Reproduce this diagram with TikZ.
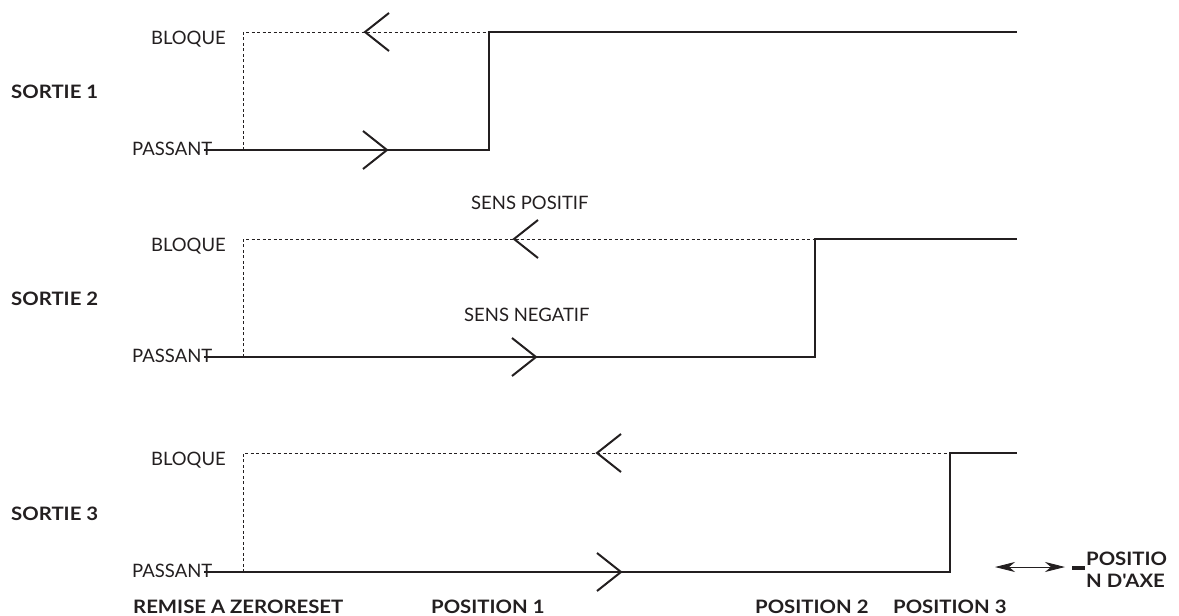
\documentclass[tikz,border=0pt]{standalone}
\usepackage{fontspec}
\newfontfamily\nfam{Lato}
\newfontfamily\bfam{Lato}[FakeStretch=1.1]
\usetikzlibrary{arrows.meta}
\definecolor{ink}{HTML}{231F20}
\tikzset{
  lbl/.style={font=\nfam\fontsize{18.5}{18.5}\selectfont, text=ink, inner sep=0pt},
  blbl/.style={font=\bfam\bfseries\fontsize{18.5}{18.5}\selectfont, text=ink, inner sep=0pt},
  sig/.style={draw=ink, line width=2.4pt, line join=miter},
  dsh/.style={draw=ink, line width=0.9pt, dash pattern=on 3pt off 2.5pt},
  chev/.style={draw=ink, line width=2pt},
  headtip/.tip={Stealth[length=20pt,width=10pt,inset=6pt]},
  axisarrow/.style={draw=ink, line width=0.9pt, headtip-headtip},
}
\begin{document}
\begin{tikzpicture}[x=1pt,y=-1pt]
\useasboundingbox (0,0) rectangle (1179,616);
% ---------- row labels
\node[blbl, anchor=west] (s1) at (11,92) {SORTIE 1};
\node[blbl, anchor=west] (s2) at (11,299) {SORTIE 2};
\node[blbl, anchor=west] (s3) at (11,514) {SORTIE 3};
% ---------- row 1
\node[lbl, anchor=east] (b1) at (226,39) {BLOQUE};
\node[lbl, anchor=west] (p1) at (132,149) {PASSANT};
\coordinate (a1) at (204,150);
\coordinate (d1) at (243,150);
\coordinate (e1) at (243,32);
\coordinate (v1) at (489,150);
\coordinate (w1) at (489,32);
\coordinate (r1) at (1017,32);
\draw[dsh] (d1) -- (e1) -- (w1);
\draw[sig] (a1) -- (v1) -- (w1) -- (r1);
\coordinate (cl1) at (387,150);
\coordinate (cu1) at (365,32);
\draw[chev] ([shift={(-24,-19)}]cl1) -- (cl1) -- ([shift={(-24,19)}]cl1);
\draw[chev] ([shift={(24,-19)}]cu1) -- (cu1) -- ([shift={(24,19)}]cu1);
% ---------- row 2
\node[lbl, anchor=east] (b2) at (226,246) {BLOQUE};
\node[lbl, anchor=west] (p2) at (132,356) {PASSANT};
\node[lbl, anchor=west] (sp) at (471,203) {SENS POSITIF};
\node[lbl, anchor=west] (sn) at (464,315) {SENS NEGATIF};
\coordinate (a2) at (204,357);
\coordinate (d2) at (243,357);
\coordinate (e2) at (243,239);
\coordinate (v2) at (815,357);
\coordinate (w2) at (815,239);
\coordinate (r2) at (1017,239);
\draw[dsh] (d2) -- (e2) -- (w2);
\draw[sig] (a2) -- (v2) -- (w2) -- (r2);
\coordinate (cl2) at (536,357);
\coordinate (cu2) at (514,239);
\draw[chev] ([shift={(-24,-19)}]cl2) -- (cl2) -- ([shift={(-24,19)}]cl2);
\draw[chev] ([shift={(24,-19)}]cu2) -- (cu2) -- ([shift={(24,19)}]cu2);
% ---------- row 3
\node[lbl, anchor=east] (b3) at (226,460) {BLOQUE};
\node[lbl, anchor=west] (p3) at (132,571) {PASSANT};
\coordinate (a3) at (204,572);
\coordinate (d3) at (243,572);
\coordinate (e3) at (243,453);
\coordinate (v3) at (950,572);
\coordinate (w3) at (950,453);
\coordinate (r3) at (1017,453);
\draw[dsh] (d3) -- (e3) -- (w3);
\draw[sig] (a3) -- (v3) -- (w3) -- (r3);
\coordinate (cl3) at (621,572);
\coordinate (cu3) at (597,453);
\draw[chev] ([shift={(-24,-19)}]cl3) -- (cl3) -- ([shift={(-24,19)}]cl3);
\draw[chev] ([shift={(24,-19)}]cu3) -- (cu3) -- ([shift={(24,19)}]cu3);
% ---------- axis legend
\coordinate (al) at (995,567);
\coordinate (ar) at (1065,567);
\draw[axisarrow] (al) -- (ar);
\coordinate (ml) at (1072,568);
\coordinate (mr) at (1085,568);
\draw[draw=ink, line width=4pt] (ml) -- (mr);
\node[blbl, anchor=west] (pa1) at (1086,559) {POSITIO};
\node[blbl, anchor=west] (pa2) at (1086,581) {N D'AXE};
% ---------- bottom labels
\node[blbl, anchor=west] (rz) at (133,607) {REMISE A ZERORESET};
\node[blbl, anchor=west] (q1) at (431,607) {POSITION 1};
\node[blbl, anchor=west] (q2) at (755,607) {POSITION 2};
\node[blbl, anchor=west] (q3) at (893,607) {POSITION 3};
\end{tikzpicture}
\end{document}
